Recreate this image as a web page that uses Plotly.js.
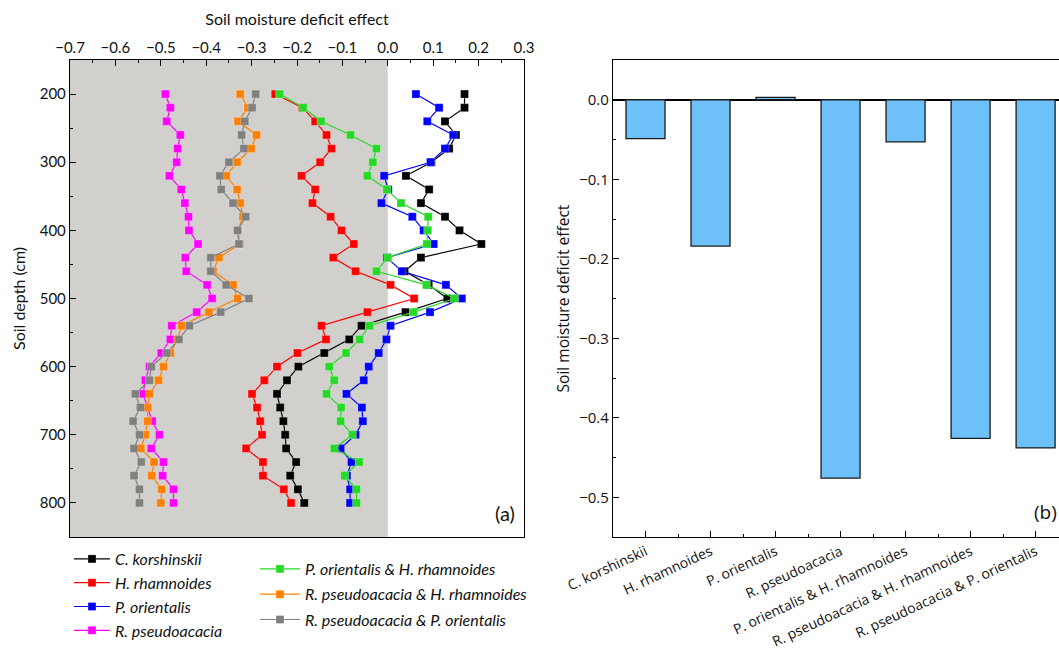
<!DOCTYPE html>
<html>
<head>
<meta charset="utf-8">
<script src="https://cdn.plot.ly/plotly-3.0.1.min.js"></script>
<style>html,body{margin:0;padding:0;background:#fff;}#chart{width:1059px;height:655px;}</style>
</head>
<body>
<div id="chart"></div>
<script>
// ---- Panel (a): soil moisture deficit effect by depth ----
const depths = [200,220,240,260,280,300,320,340,360,380,400,420,440,460,480,500,520,540,560,580,600,620,640,660,680,700,720,740,760,780,800];

const cKorshinskii = [0.169,0.169,0.126,0.150,0.135,0.096,0.040,0.091,0.073,0.126,0.158,0.206,0.073,0.037,0.090,0.131,0.039,-0.058,-0.085,-0.140,-0.197,-0.222,-0.244,-0.237,-0.230,-0.226,-0.224,-0.202,-0.215,-0.198,-0.184];
const hRhamnoides = [-0.248,-0.188,-0.160,-0.135,-0.124,-0.149,-0.190,-0.160,-0.166,-0.126,-0.102,-0.075,-0.120,-0.071,0.006,0.058,-0.045,-0.146,-0.136,-0.199,-0.244,-0.272,-0.299,-0.288,-0.281,-0.277,-0.312,-0.275,-0.275,-0.229,-0.213];
const pOrientalis = [0.062,0.113,0.087,0.144,0.126,0.094,-0.008,0.001,-0.014,0.054,0.079,0.101,-0.002,0.031,0.128,0.163,0.093,0.006,-0.003,-0.020,-0.042,-0.053,-0.091,-0.057,-0.055,-0.071,-0.104,-0.080,-0.090,-0.083,-0.083];
const rPseudoacacia = [-0.490,-0.479,-0.487,-0.457,-0.463,-0.465,-0.481,-0.455,-0.447,-0.439,-0.438,-0.418,-0.446,-0.444,-0.398,-0.387,-0.421,-0.476,-0.479,-0.499,-0.525,-0.534,-0.539,-0.529,-0.519,-0.503,-0.521,-0.494,-0.496,-0.472,-0.472];
const poHr = [-0.238,-0.186,-0.147,-0.082,-0.025,-0.033,-0.045,-0.002,0.029,0.089,0.088,0.086,0.000,-0.025,0.085,0.147,0.057,-0.040,-0.062,-0.092,-0.129,-0.118,-0.135,-0.103,-0.104,-0.078,-0.118,-0.063,-0.095,-0.069,-0.069];
const rpHr = [-0.325,-0.308,-0.330,-0.289,-0.301,-0.332,-0.356,-0.332,-0.325,-0.319,-0.330,-0.326,-0.372,-0.385,-0.341,-0.331,-0.394,-0.454,-0.463,-0.479,-0.494,-0.505,-0.525,-0.529,-0.529,-0.534,-0.544,-0.515,-0.520,-0.498,-0.500];
const rpPo = [-0.291,-0.299,-0.315,-0.322,-0.317,-0.350,-0.370,-0.367,-0.341,-0.313,-0.331,-0.328,-0.390,-0.390,-0.356,-0.306,-0.368,-0.437,-0.460,-0.487,-0.521,-0.525,-0.556,-0.545,-0.561,-0.547,-0.559,-0.543,-0.559,-0.547,-0.547];

const seriesNames = ['C. korshinskii','H. rhamnoides','P. orientalis','R. pseudoacacia',
  'P. orientalis &amp; H. rhamnoides','R. pseudoacacia &amp; H. rhamnoides','R. pseudoacacia &amp; P. orientalis'];
const seriesValues = [cKorshinskii,hRhamnoides,pOrientalis,rPseudoacacia,poHr,rpHr,rpPo];
const seriesColors = ['#000000','#ff0000','#0000ff','#ff00ff','#26d926','#ff8000','#808080'];
const seriesLegend = ['legend','legend','legend','legend','legend2','legend2','legend2'];

// ---- Panel (b): overall effect ----
const barCategories = ['C. korshinskii','H. rhamnoides','P. orientalis','R. pseudoacacia',
  'P. orientalis & H. rhamnoides','R. pseudoacacia & H. rhamnoides','R. pseudoacacia & P. orientalis'];
const barValues = [-0.049,-0.184,0.003,-0.476,-0.053,-0.426,-0.438];

const W = 1059, H = 655;
const leftFont = 'Lato, "Open Sans", sans-serif';
const rightFont = '"Open Sans", "Noto Sans", sans-serif';

const traces = seriesValues.map((vals, i) => ({
  type: 'scatter', mode: 'lines+markers',
  x: vals, y: depths,
  xaxis: 'x', yaxis: 'y',
  name: '<i>' + seriesNames[i] + '</i>',
  legend: seriesLegend[i],
  legendgroup: 'g' + i,
  line: {color: seriesColors[i], width: 1.2},
  marker: {symbol: 'square', size: 8, color: seriesColors[i], line: {width: 0.6, color: 'rgba(255,255,255,0.45)'}},
  hoverinfo: 'x+y'
}));

traces.push({
  type: 'bar',
  x: barCategories.map((c, i) => i),
  y: barValues,
  xaxis: 'x2', yaxis: 'y2',
  width: 0.6,
  marker: {color: '#6ec1f8', line: {color: '#1a1a1a', width: 1.3}},
  showlegend: false,
  hovertext: barCategories, hoverinfo: 'text+y'
});

const yTop = 1 - 60/H, yBot = 1 - 537/H;

const layout = {
  width: W, height: H,
  margin: {l: 0, r: 0, t: 0, b: 0},
  paper_bgcolor: '#ffffff', plot_bgcolor: '#ffffff',
  font: {family: leftFont, color: '#111', size: 14},
  showlegend: true,
  xaxis: {
    domain: [70/W, 524/W], anchor: 'y', side: 'top',
    range: [-0.7, 0.3], tickmode: 'linear', tick0: -0.7, dtick: 0.1, tickformat: '.1f',
    ticks: 'inside', ticklen: 6, tickcolor: '#000', tickwidth: 1,
    minor: {ticks: 'inside', ticklen: 3, dtick: 0.05, tickcolor: '#000', showgrid: false},
    showline: true, mirror: true, linecolor: '#000', linewidth: 1.2,
    showgrid: false, zeroline: false,
    tickfont: {family: leftFont, size: 15, color: '#111'},
    title: {text: 'Soil moisture deficit effect', font: {family: leftFont, size: 16, color: '#111'}, standoff: 8}
  },
  yaxis: {
    domain: [yBot, yTop], anchor: 'x',
    range: [850, 150], tickvals: [200,300,400,500,600,700,800],
    ticks: 'inside', ticklen: 6, tickcolor: '#000',
    minor: {ticks: 'inside', ticklen: 3, tickvals: [250,350,450,550,650,750], tickcolor: '#000', showgrid: false},
    showline: true, mirror: true, linecolor: '#000', linewidth: 1.2,
    showgrid: false, zeroline: false,
    tickfont: {family: leftFont, size: 15, color: '#111'},
    title: {text: 'Soil depth (cm)', font: {family: leftFont, size: 16, color: '#111'}, standoff: 10}
  },
  xaxis2: {
    domain: [613/W, 1], anchor: 'y2',
    range: [-0.5, 6.36],
    tickvals: barCategories.map((c, i) => i), ticktext: barCategories,
    tickangle: -25,
    ticks: 'inside', ticklen: 6, tickcolor: '#000',
    minor: {ticks: 'inside', ticklen: 3, tickvals: [0.5,1.5,2.5,3.5,4.5,5.5], tickcolor: '#000', showgrid: false},
    showline: true, mirror: true, linecolor: '#000', linewidth: 1.2,
    showgrid: false, zeroline: false,
    tickfont: {family: rightFont, size: 14, color: '#111'}
  },
  yaxis2: {
    domain: [yBot, yTop], anchor: 'x2',
    range: [-0.55, 0.05],
    tickvals: [0, -0.1, -0.2, -0.3, -0.4, -0.5], tickformat: '.1f',
    ticks: 'inside', ticklen: 6, tickcolor: '#000',
    minor: {ticks: 'inside', ticklen: 3, tickvals: [0.05,-0.05,-0.15,-0.25,-0.35,-0.45,-0.55], tickcolor: '#000', showgrid: false},
    showline: true, mirror: true, linecolor: '#000', linewidth: 1.2,
    showgrid: false, zeroline: true, zerolinecolor: '#000', zerolinewidth: 1.5,
    tickfont: {family: rightFont, size: 15, color: '#111'},
    title: {text: 'Soil moisture deficit effect', font: {family: rightFont, size: 15.5, color: '#111'}, standoff: 5}
  },
  shapes: [{
    type: 'rect', xref: 'x', yref: 'y domain', x0: -0.7, x1: 0, y0: 0, y1: 1,
    fillcolor: 'rgb(209,208,204)', line: {width: 0}, layer: 'below'
  }],
  legend: {
    x: 69/W, y: 1 - 542/H, xanchor: 'left', yanchor: 'top',
    bgcolor: 'rgba(0,0,0,0)', borderwidth: 0,
    font: {family: leftFont, size: 16, color: '#111'},
    tracegroupgap: 0, itemwidth: 36
  },
  legend2: {
    x: 255/W, y: 1 - 552/H, xanchor: 'left', yanchor: 'top',
    bgcolor: 'rgba(0,0,0,0)', borderwidth: 0,
    font: {family: leftFont, size: 16, color: '#111'},
    tracegroupgap: 1.5, itemwidth: 40
  },
  annotations: [
    {text: '(a)', xref: 'x domain', yref: 'y domain', x: 0.985, y: 0.02, xanchor: 'right', yanchor: 'bottom',
     showarrow: false, font: {family: leftFont, size: 20, color: '#111'}},
    {text: '(b)', xref: 'x2 domain', yref: 'y2 domain', x: 1.0, y: 0.02, xanchor: 'right', yanchor: 'bottom',
     showarrow: false, font: {family: rightFont, size: 19, color: '#111'}}
  ]
};

Plotly.newPlot('chart', traces, layout, {displayModeBar: false, staticPlot: true});
</script>
</body>
</html>
